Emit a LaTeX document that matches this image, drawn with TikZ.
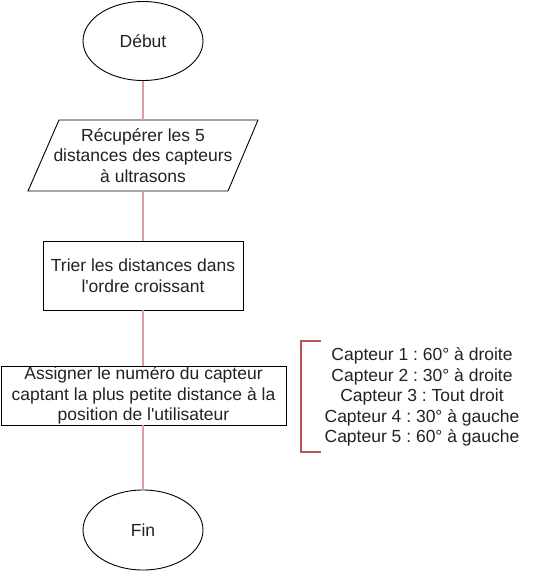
\documentclass[tikz,border=0pt]{standalone}
\usepackage{fontspec}
\setmainfont{Liberation Sans}[Ligatures=TeXOff]
\frenchspacing
\usetikzlibrary{shapes.geometric}
\definecolor{conn}{RGB}{214,160,160}
\definecolor{brk}{HTML}{B85450}
\definecolor{txt}{HTML}{222222}
\begin{document}
\begin{tikzpicture}[x=1pt,y=-1pt,
  every node/.style={font=\fontsize{17.5}{20.5}\selectfont, text=txt, align=center, inner sep=0pt},
  term/.style={ellipse, draw, line width=0.9pt, minimum width=120pt, minimum height=79pt},
  procbox/.style={draw, line width=0.9pt, rectangle},
  iobox/.style={draw, line width=0.9pt},
  link/.style={draw=conn, line width=1.1pt},
  bracketline/.style={draw=brk, line width=1.1pt}]
\useasboundingbox (0,0) rectangle (542,571);
\node[term] (debut) at (143,41) {Début};
\node (recup) at (143,155.5) {Récupérer les 5\\distances des capteurs\\à ultrasons};
\coordinate (p1) at (59,120);
\coordinate (p2) at (258,120);
\coordinate (p3) at (228,191);
\coordinate (p4) at (28,191);
\draw[iobox] (p1) -- (p2) -- (p3) -- (p4) -- cycle;
\coordinate (recupT) at (143,120);
\coordinate (recupB) at (143,191);
\node[procbox, minimum width=200pt, minimum height=69pt] (trier) at (143,275.5) {Trier les distances dans\\l'ordre croissant};
\node[procbox, minimum width=285pt, minimum height=59pt] (assign) at (143.5,395.5) {Assigner le numéro du capteur\\captant la plus petite distance à la\\position de l'utilisateur};
\node[term, minimum height=80pt] (fin) at (143,530) {Fin};
\node (list) at (422,397) {Capteur 1 : 60° à droite\\Capteur 2 : 30° à droite\\Capteur 3 : Tout droit\\Capteur 4 : 30° à gauche\\Capteur 5 : 60° à gauche};
\coordinate (b1) at (321,341);
\coordinate (b2) at (301,341);
\coordinate (b3) at (301,452);
\coordinate (b4) at (321,452);
\draw[bracketline] (b1) -- (b2) -- (b3) -- (b4);
\draw[link] (debut.south) -- (recupT);
\draw[link] (recupB) -- (trier.north);
\draw[link] (trier.south) -- (trier.south |- assign.north);
\draw[link] (trier.south |- assign.south) -- (fin.north);
\end{tikzpicture}
\end{document}
